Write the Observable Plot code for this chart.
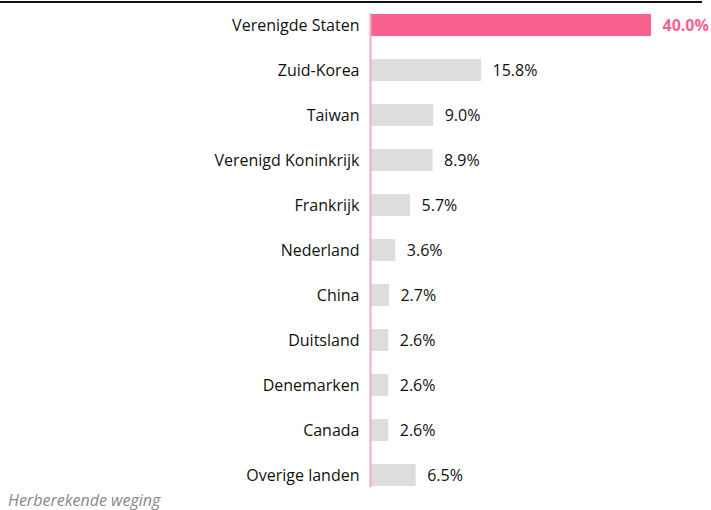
<!DOCTYPE html>
<html>
<head>
<meta charset="utf-8">
<script src="https://cdn.jsdelivr.net/npm/d3@7"></script>
<script src="https://cdn.jsdelivr.net/npm/@observablehq/plot@0.6"></script>
<style>
  body { margin: 0; background: #fff; font-family: "Open Sans", sans-serif; }
  #wrap { position: relative; width: 711px; height: 510px; }
  #topline { position: absolute; left: 0; top: 1px; width: 702px; height: 2px; background: #111; }
  #chart { position: absolute; left: 0; top: 0; }
  #caption { position: absolute; left: 8px; top: 489px; font-size: 16px; font-style: italic; color: #888; }
</style>
</head>
<body>
<div id="wrap">
  <div id="chart"></div>
  <div id="topline"></div>
  <div id="caption">Herberekende weging</div>
</div>
<script>
const countries = ["Verenigde Staten", "Zuid-Korea", "Taiwan", "Verenigd Koninkrijk", "Frankrijk", "Nederland", "China", "Duitsland", "Denemarken", "Canada", "Overige landen"];
const shares = [40.0, 15.8, 9.0, 8.9, 5.7, 3.6, 2.7, 2.6, 2.6, 2.6, 6.5];
const highlight = "Verenigde Staten";

const data = countries.map((c, i) => ({country: c, value: shares[i], hi: c === highlight}));

const chart = Plot.plot({
  width: 711,
  height: 490,
  marginLeft: 370,
  marginRight: 60,
  marginTop: 13,
  marginBottom: 3,
  style: {fontFamily: "Open Sans, sans-serif", background: "transparent"},
  x: {domain: [0, 40], axis: null},
  y: {domain: countries, paddingInner: 0.512, paddingOuter: 0, label: null},
  marks: [
    Plot.barX(data, {x: "value", y: "country", fill: d => d.hi ? "#f7628f" : "#dddddd"}),
    Plot.ruleX([0], {stroke: "#f7a8c2", strokeWidth: 2}),
    Plot.axisY({tickSize: 0, tickPadding: 11, fontSize: 16, fill: "#111", label: null}),
    Plot.text(data.filter(d => !d.hi), {x: "value", y: "country", text: d => d.value.toFixed(1) + "%", textAnchor: "start", dx: 11, fontSize: 16, fill: "#111"}),
    Plot.text(data.filter(d => d.hi), {x: "value", y: "country", text: d => d.value.toFixed(1) + "%", textAnchor: "start", dx: 11, fontSize: 16, fill: "#f7628f", fontWeight: "bold"})
  ]
});
document.getElementById("chart").appendChild(chart);
</script>
</body>
</html>
